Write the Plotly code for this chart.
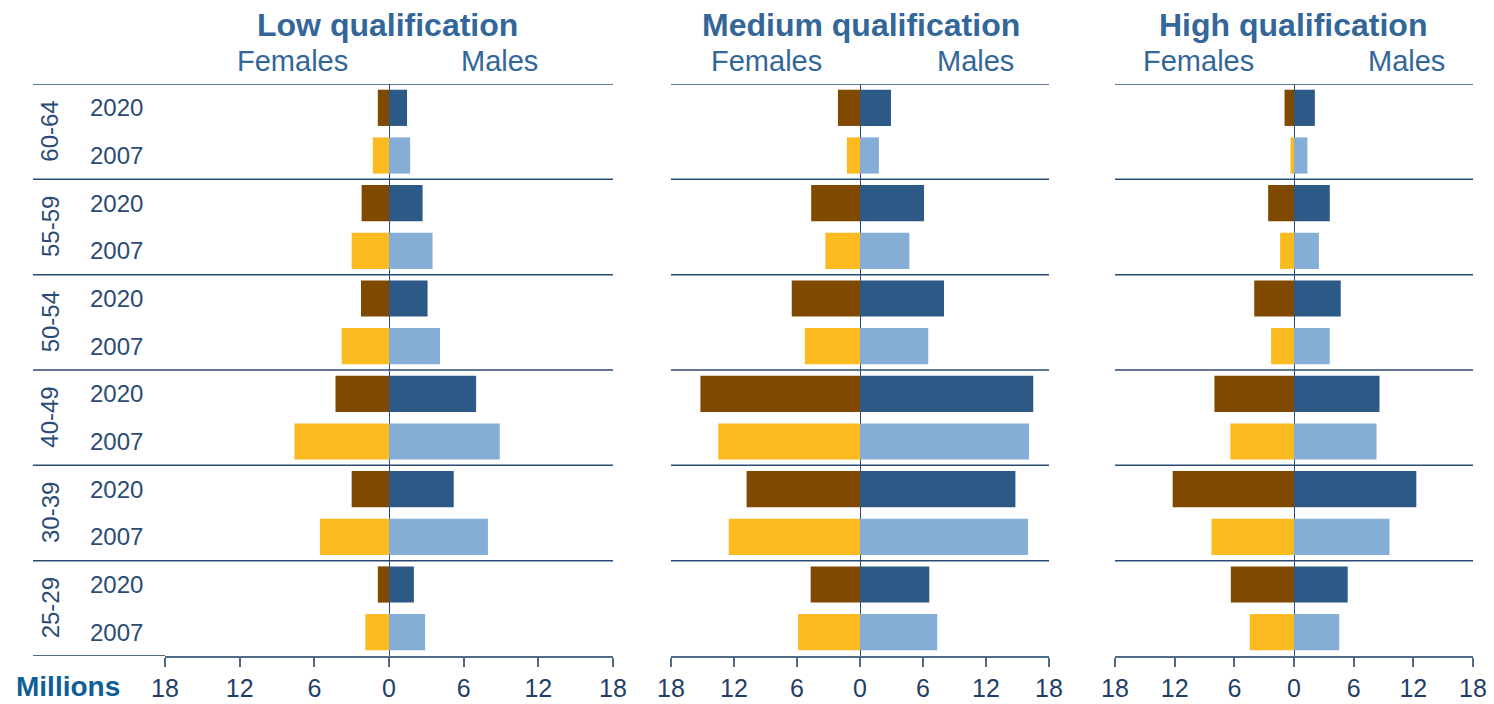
import plotly.graph_objects as go

# age groups bottom -> top
ages = ["25-29", "30-39", "40-49", "50-54", "55-59", "60-64"]
years = ["2007", "2020"]
panels = ["Low qualification", "Medium qualification", "High qualification"]

# millions, females shown to the left
low_f_2020 = [0.9, 3.0, 4.3, 2.25, 2.2, 0.9]
low_m_2020 = [2.0, 5.2, 7.0, 3.1, 2.7, 1.45]
low_f_2007 = [1.9, 5.55, 7.6, 3.8, 3.0, 1.3]
low_m_2007 = [2.9, 7.95, 8.9, 4.1, 3.5, 1.7]

med_f_2020 = [4.7, 10.8, 15.2, 6.5, 4.65, 2.1]
med_m_2020 = [6.6, 14.8, 16.5, 8.0, 6.1, 2.95]
med_f_2007 = [5.9, 12.5, 13.5, 5.25, 3.3, 1.25]
med_m_2007 = [7.35, 16.0, 16.1, 6.5, 4.7, 1.8]

high_f_2020 = [6.35, 12.2, 8.0, 4.0, 2.6, 0.95]
high_m_2020 = [5.4, 12.3, 8.6, 4.7, 3.6, 2.1]
high_f_2007 = [4.45, 8.3, 6.4, 2.3, 1.4, 0.35]
high_m_2007 = [4.55, 9.6, 8.3, 3.6, 2.5, 1.35]

tick_vals = [-18, -12, -6, 0, 6, 12, 18]
tick_text = ["18", "12", "6", "0", "6", "12", "18"]

c_f20, c_m20 = "#7F4A00", "#2D5986"
c_f07, c_m07 = "#FBBA20", "#85AED6"
navy = "#2B4A74"
title_col = "#336699"

# page has an 8px body margin, so the figure is shrunk by that much
OFF = 8
FW, FH = 1494 - OFF, 704 - OFF
TOP, BOT = 84, 656  # plot area in page pixels


def px(x):
    return (x - OFF) / FW


def py(y):
    return (BOT - y) / (BOT - TOP)


domains = [(px(165), px(613)), (px(671), px(1049)), (px(1115), px(1473))]
line_left = [px(33), px(671), px(1115)]

data = [
    (low_f_2020, low_m_2020, low_f_2007, low_m_2007),
    (med_f_2020, med_m_2020, med_f_2007, med_m_2007),
    (high_f_2020, high_m_2020, high_f_2007, high_m_2007),
]

y20 = [2 * i + 1 for i in range(len(ages))]
y07 = [2 * i for i in range(len(ages))]

fig = go.Figure()
for p, (f20, m20, f07, m07) in enumerate(data):
    xa = "x" if p == 0 else f"x{p + 1}"
    for vals, ys, col, sign in [
        (f20, y20, c_f20, -1), (m20, y20, c_m20, 1),
        (f07, y07, c_f07, -1), (m07, y07, c_m07, 1),
    ]:
        fig.add_trace(go.Bar(
            x=[sign * v for v in vals], y=ys, orientation="h",
            width=0.76, marker=dict(color=col, line=dict(width=0)),
            xaxis=xa, yaxis="y", showlegend=False, hoverinfo="skip",
        ))

axis_common = dict(
    range=[-18, 18], tickvals=tick_vals, ticktext=tick_text,
    showgrid=False, zeroline=True, zerolinecolor=navy, zerolinewidth=1,
    showline=True, linecolor="#4F6B8A", linewidth=2,
    ticks="outside", ticklen=9, tickwidth=2, tickcolor="#4F6B8A",
    tickfont=dict(family="Liberation Sans Narrow, Liberation Sans", size=25, color="#1F3F68"),
    automargin=False, fixedrange=True,
)
layout = dict(
    width=FW, height=FH,
    margin=dict(l=0, r=0, t=TOP - OFF, b=704 - BOT, pad=0, autoexpand=False),
    plot_bgcolor="white", paper_bgcolor="white", barmode="overlay",
    yaxis=dict(range=[-0.5, 11.5], visible=False, fixedrange=True, automargin=False),
)
for p in range(3):
    key = "xaxis" if p == 0 else f"xaxis{p + 1}"
    layout[key] = dict(axis_common, domain=list(domains[p]), anchor="y")
fig.update_layout(**layout)

# group separators
for p in range(3):
    for i in range(len(ages) + 1):
        yv = 2 * i - 0.5
        if i == 0:
            fig.add_shape(type="line", xref="paper", yref="y",
                          x0=line_left[p], x1=domains[p][0], y0=yv, y1=yv,
                          line=dict(color="#4F6B8A", width=2))
            continue
        fig.add_shape(type="line", xref="paper", yref="y",
                      x0=line_left[p], x1=domains[p][1], y0=yv, y1=yv,
                      line=dict(color=navy, width=1.5), layer="below")

label_font = dict(family="Liberation Sans", size=24, color="#2A4B74")

# left labels
for i, age in enumerate(ages):
    fig.add_annotation(x=px(50), y=2 * i + 0.5, xref="paper", yref="y",
                       xanchor="center", yanchor="middle",
                       text=age, textangle=-90, showarrow=False, font=label_font)
    for yv, yr in zip([2 * i, 2 * i + 1], years):
        fig.add_annotation(x=px(116), y=yv, xref="paper", yref="y",
                           xanchor="center", yanchor="middle",
                           text=yr, showarrow=False, font=label_font)

# titles
centers = [387, 861, 1293]
fem_x = [292, 766, 1198]
male_x = [499, 975, 1406]
for p in range(3):
    fig.add_annotation(x=px(centers[p]), y=py(25), xref="paper", yref="paper",
                       xanchor="center", yanchor="middle",
                       text=f"<b>{panels[p]}</b>", showarrow=False,
                       font=dict(family="Liberation Sans", size=32, color=title_col))
    fig.add_annotation(x=px(fem_x[p]), y=py(61), xref="paper", yref="paper",
                       xanchor="center", yanchor="middle",
                       text="Females", showarrow=False,
                       font=dict(family="Liberation Sans", size=29, color=title_col))
    fig.add_annotation(x=px(male_x[p]), y=py(61), xref="paper", yref="paper",
                       xanchor="center", yanchor="middle",
                       text="Males", showarrow=False,
                       font=dict(family="Liberation Sans", size=29, color=title_col))

fig.add_annotation(x=px(68), y=py(686), xref="paper", yref="paper",
                   xanchor="center", yanchor="middle",
                   text="<b>Millions</b>", showarrow=False,
                   font=dict(family="Liberation Sans Narrow, Liberation Sans", size=28, color="#0F5F96"))

fig.write_html("out.html")
